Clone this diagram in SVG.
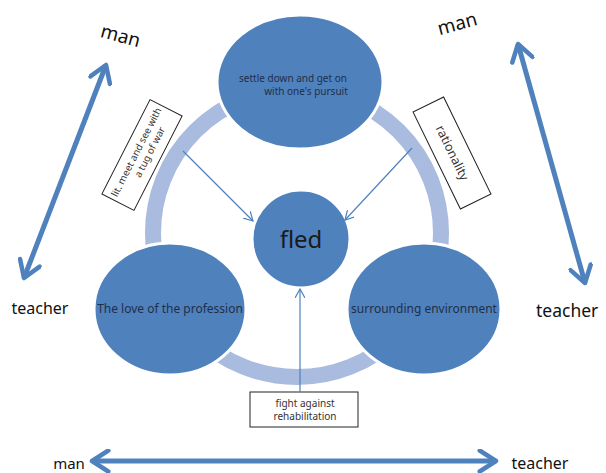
<svg xmlns="http://www.w3.org/2000/svg" width="606" height="473" viewBox="0 0 606 473">
<style>
text{font-family:"Noto Sans","Open Sans","DejaVu Sans",sans-serif}
.node{fill:#4f81bd;stroke:#fff;stroke-width:3}
.nt{fill:#1f2f4a;font-size:12px;text-anchor:middle}
.thin{stroke:#4f81bd;stroke-width:1.2;fill:none;marker-end:url(#ah)}
.big{stroke:#4f81bd;stroke-width:5;fill:none;marker-end:url(#bh);marker-start:url(#bh)}
.box{fill:#fff;stroke:#222;stroke-width:1}
.bt{fill:#333;font-size:10px;text-anchor:middle}
.lab{fill:#111;text-anchor:middle}
</style>
<defs>
<marker id="ah" viewBox="0 0 10 10" refX="9" refY="5" markerWidth="10" markerHeight="10" markerUnits="userSpaceOnUse" orient="auto-start-reverse">
<path d="M0,0 L9,5 L0,10" fill="none" stroke="#4f81bd" stroke-width="1.2"/>
</marker>
<marker id="bh" viewBox="0 0 10 10" refX="8" refY="5" markerWidth="5" markerHeight="5" orient="auto-start-reverse">
<path d="M1.5,0.8 L8,5 L1.5,9.2" fill="none" stroke="#4f81bd" stroke-width="1.8" stroke-linecap="round" stroke-linejoin="round"/>
</marker>
</defs>
<rect width="606" height="473" fill="#fff"/>
<circle cx="297" cy="233" r="144" fill="none" stroke="#a9bcdf" stroke-width="16"/>
<g id="top">
<ellipse class="node" cx="300" cy="82" rx="83" ry="67"/>
<text class="nt" style="font-size:10px"><tspan x="293" y="82">settle down and get on</tspan><tspan x="306" y="95">with one's pursuit</tspan></text>
</g>
<g id="left">
<ellipse class="node" cx="170" cy="309" rx="76" ry="66"/>
<text class="nt" x="170" y="313">The love of the profession</text>
</g>
<g id="right">
<ellipse class="node" cx="424" cy="309" rx="77" ry="66"/>
<text class="nt" x="424" y="313">surrounding environment</text>
</g>
<g id="fled">
<circle class="node" cx="301" cy="239" r="49"/>
<text x="301" y="248" font-size="24" fill="#1a1a1a" text-anchor="middle">fled</text>
</g>
<g id="box-left" transform="translate(142,155) rotate(-63)">
<rect class="box" x="-53" y="-18" width="106" height="36"/>
<text class="bt" style="font-size:9.8px"><tspan x="0" y="-3">lit. meet and see with</tspan><tspan x="6" y="9">a tug of war</tspan></text>
</g>
<g id="box-right" transform="translate(452,153) rotate(64)">
<rect class="box" x="-54" y="-17" width="108" height="34"/>
<text class="bt" x="0" y="4" style="font-size:12.5px">rationality</text>
</g>
<g id="box-bottom">
<rect class="box" x="250" y="392" width="108" height="35"/>
<text class="bt"><tspan x="305" y="407">fight against</tspan><tspan x="305" y="420">rehabilitation</tspan></text>
</g>
<g id="connectors">
<line class="thin" x1="183" y1="151" x2="253" y2="221"/>
<line class="thin" x1="412" y1="148" x2="345" y2="220"/>
<line class="thin" x1="300" y1="392" x2="300" y2="289"/>
<line class="big" x1="24" y1="278" x2="106" y2="65"/>
<line class="big" x1="518" y1="44" x2="585" y2="283"/>
<line class="big" x1="92" y1="461" x2="496" y2="461"/>
</g>
<g id="labels">
<text class="lab" font-size="19" transform="translate(119,42) rotate(15)">man</text>
<text class="lab" font-size="19" transform="translate(459,30) rotate(-15)">man</text>
<text class="lab" font-size="16" x="40" y="314">teacher</text>
<text font-size="17.5" fill="#111" x="536" y="317">teacher</text>
<text class="lab" font-size="15" x="69" y="469">man</text>
<text class="lab" font-size="16" x="540" y="469">teacher</text>
</g>
</svg>
